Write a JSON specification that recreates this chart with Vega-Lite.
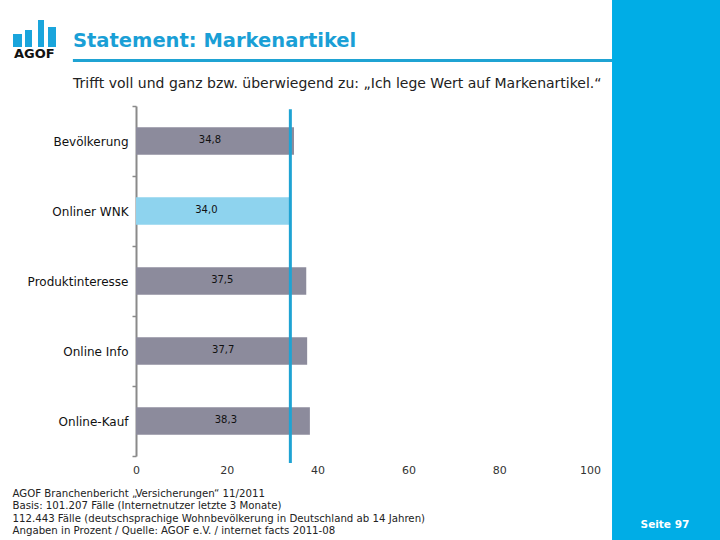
{
  "$schema": "https://vega.github.io/schema/vega-lite/v6.json",
  "width": 454,
  "height": 350,
  "autosize": {"type": "none"},
  "padding": {"left": 136, "top": 106, "right": 130, "bottom": 84},
  "background": "white",
  "config": {
    "view": {"stroke": null},
    "font": "DejaVu Sans",
    "locale": {"number": {"decimal": ",", "thousands": ".", "grouping": [3], "currency": ["", " €"]}}
  },
  "title": {
    "text": "Statement: Markenartikel",
    "subtitle": "Trifft voll und ganz bzw. überwiegend zu: „Ich lege Wert auf Markenartikel.“",
    "anchor": "start",
    "frame": "group",
    "dx": -63,
    "dy": 94,
    "offset": 0,
    "font": "DejaVu Sans",
    "fontSize": 19.5,
    "fontWeight": "bold",
    "color": "#1a9fd6",
    "subtitleFont": "DejaVu Sans",
    "subtitleFontSize": 14,
    "subtitleColor": "#222222",
    "subtitlePadding": 25
  },
  "resolve": {"scale": {"y": "independent"}},
  "layer": [
    {
      "data": {"values": [
        {"gruppe": "Bevölkerung", "wert": 34.8},
        {"gruppe": "Onliner WNK", "wert": 34.0},
        {"gruppe": "Produktinteresse", "wert": 37.5},
        {"gruppe": "Online Info", "wert": 37.7},
        {"gruppe": "Online-Kauf", "wert": 38.3}
      ]},
      "encoding": {
        "y": {"field": "gruppe", "type": "nominal", "sort": null,
          "scale": {"paddingInner": 0, "paddingOuter": 0},
          "axis": {"title": null, "tickBand": "extent", "domainColor": "#8a8a8a", "domainWidth": 2,
            "tickColor": "#8a8a8a", "tickSize": 4, "tickWidth": 1.5, "labelFontSize": 12,
            "labelColor": "#111111", "labelPadding": 4, "labelFont": "DejaVu Sans"}},
        "x": {"field": "wert", "type": "quantitative", "scale": {"domain": [0, 100], "nice": false},
          "axis": {"values": [0, 20, 40, 60, 80, 100], "domain": false, "ticks": false, "grid": false,
            "labelFontSize": 11, "labelColor": "#333333", "labelPadding": 8, "format": "d", "labelFlush": false,
            "title": [
              "AGOF Branchenbericht „Versicherungen“ 11/2011",
              "Basis: 101.207 Fälle (Internetnutzer letzte 3 Monate)",
              "112.443 Fälle (deutschsprachige Wohnbevölkerung in Deutschland ab 14 Jahren)",
              "Angaben in Prozent /  Quelle: AGOF e.V. / internet facts 2011-08"
            ],
            "titleX": -124, "titleY": 32, "titleAlign": "left", "titleAnchor": null, "titleBaseline": "top",
            "titleFontSize": 10.2, "titleFontWeight": "normal", "titleColor": "#222222", "titleLineHeight": 12.5,
            "titleFont": "DejaVu Sans"}}
      },
      "layer": [
        {
          "mark": {"type": "bar", "height": {"band": 0.39}},
          "encoding": {
            "color": {"condition": {"test": "datum.gruppe === 'Onliner WNK'", "value": "#8ed3ee"}, "value": "#8c8b9c"}
          }
        },
        {
          "mark": {"type": "text", "align": "center", "baseline": "middle", "dx": -84, "dy": -1, "fontSize": 10, "color": "#111111"},
          "encoding": {
            "text": {"field": "wert", "type": "quantitative", "format": ".1f"}
          }
        }
      ]
    },
    {
      "data": {"values": [{}]},
      "mark": {"type": "rule", "color": "#1fa3d3", "strokeWidth": 3},
      "encoding": {
        "x": {"datum": 34.0, "type": "quantitative"},
        "y": {"datum": 0.991, "type": "quantitative", "scale": {"domain": [0, 1], "nice": false, "zero": false}, "axis": null},
        "y2": {"datum": -0.02}
      }
    },
    {
      "data": {"values": [{}]},
      "mark": {"type": "rule", "color": "#1fa3d3", "strokeWidth": 3},
      "encoding": {
        "x": {"datum": -13.9, "type": "quantitative"},
        "x2": {"datum": 104.85},
        "y": {"datum": 1.13, "type": "quantitative", "scale": {"domain": [0, 1], "nice": false, "zero": false}, "axis": null}
      }
    },
    {
      "data": {"values": [{}]},
      "mark": {"type": "rect", "color": "#00ade6"},
      "encoding": {
        "x": {"datum": 104.85, "type": "quantitative"},
        "x2": {"datum": 130},
        "y": {"datum": 1.31, "type": "quantitative", "scale": {"domain": [0, 1], "nice": false, "zero": false}, "axis": null},
        "y2": {"datum": -0.25}
      }
    },
    {
      "data": {"values": [{}]},
      "mark": {"type": "text", "text": "Seite 97", "color": "white", "fontWeight": "bold", "fontSize": 10.5, "align": "center", "baseline": "middle"},
      "encoding": {
        "x": {"datum": 116.5, "type": "quantitative"},
        "y": {"datum": -0.197, "type": "quantitative", "scale": {"domain": [0, 1], "nice": false, "zero": false}, "axis": null}
      }
    },
    {
      "data": {"values": [{}]},
      "mark": {"type": "text", "text": "AGOF", "color": "#111111", "fontWeight": "bold", "fontSize": 13, "align": "center", "baseline": "middle"},
      "encoding": {
        "x": {"datum": -22.4, "type": "quantitative"},
        "y": {"datum": 1.15, "type": "quantitative", "scale": {"domain": [0, 1], "nice": false, "zero": false}, "axis": null}
      }
    },
    {
      "data": {"values": [{}]},
      "mark": {"type": "rect", "color": "#1aa5dc"},
      "encoding": {
        "x": {"datum": -27.09, "type": "quantitative"},
        "x2": {"datum": -25.11},
        "y": {"datum": 1.2057, "type": "quantitative", "scale": {"domain": [0, 1], "nice": false, "zero": false}, "axis": null},
        "y2": {"datum": 1.1686}
      }
    },
    {
      "data": {"values": [{}]},
      "mark": {"type": "rect", "color": "#1aa5dc"},
      "encoding": {
        "x": {"datum": -24.45, "type": "quantitative"},
        "x2": {"datum": -22.91},
        "y": {"datum": 1.2171, "type": "quantitative", "scale": {"domain": [0, 1], "nice": false, "zero": false}, "axis": null},
        "y2": {"datum": 1.1686}
      }
    },
    {
      "data": {"values": [{}]},
      "mark": {"type": "rect", "color": "#1aa5dc"},
      "encoding": {
        "x": {"datum": -21.59, "type": "quantitative"},
        "x2": {"datum": -20.26},
        "y": {"datum": 1.2457, "type": "quantitative", "scale": {"domain": [0, 1], "nice": false, "zero": false}, "axis": null},
        "y2": {"datum": 1.1686}
      }
    },
    {
      "data": {"values": [{}]},
      "mark": {"type": "rect", "color": "#1aa5dc"},
      "encoding": {
        "x": {"datum": -19.38, "type": "quantitative"},
        "x2": {"datum": -17.62},
        "y": {"datum": 1.2257, "type": "quantitative", "scale": {"domain": [0, 1], "nice": false, "zero": false}, "axis": null},
        "y2": {"datum": 1.1686}
      }
    }
  ]
}
